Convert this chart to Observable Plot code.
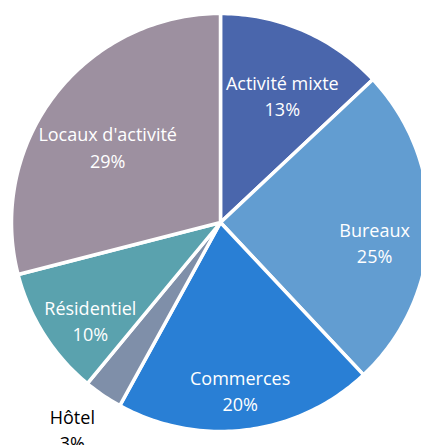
<!DOCTYPE html>
<html><head><meta charset="utf-8">
<script src="https://cdn.jsdelivr.net/npm/d3@7"></script>
<script src="https://cdn.jsdelivr.net/npm/@observablehq/plot@0.6"></script>
<style>html,body{margin:0;padding:0;background:#fff;overflow:hidden}</style>
</head><body><div id="chart"></div>
<script>
const categories = ["Activité mixte", "Bureaux", "Commerces", "Hôtel", "Résidentiel", "Locaux d'activité"];
const shares = [13, 25, 20, 3, 10, 29];
const shareLabels = ["13%", "25%", "20%", "3%", "10%", "29%"];
const colors = ["#4A66AC", "#629DD1", "#297FD5", "#7F8FA9", "#5AA2AE", "#9D90A0"];

const W = 421, H = 445, CX = 220, CY = 222, R = 209;
const FS = 18, LH = 1.45, FONT = "Open Sans";

const pie = d3.pie().sort(null).value(d => d)(shares);

// slice polygons in unit-circle data space (y up)
const pts = [];
pie.forEach((a, i) => {
  const n = Math.max(2, Math.ceil((a.endAngle - a.startAngle) / (Math.PI / 180)));
  pts.push({cat: categories[i], x: 0, y: 0});
  for (let k = 0; k <= n; k++) {
    const t = a.startAngle + (a.endAngle - a.startAngle) * k / n;
    pts.push({cat: categories[i], x: Math.sin(t), y: Math.cos(t)});
  }
});

// measure text
const ctx = document.createElement("canvas").getContext("2d");
ctx.font = `${FS}px "${FONT}"`;

function boxFits(qx, qy, w, h, a0, a1, pad) {
  const span = a1 - a0;
  for (const sx of [-1, 1]) for (const sy of [-1, 1]) {
    const cx = qx + sx * w / 2, cy = qy + sy * h / 2;
    const len = Math.hypot(cx, cy);
    if (len > R - pad) return false;
    let ang = Math.atan2(cx, -cy); if (ang < 0) ang += 2 * Math.PI;
    let delta = ((ang - a0) % (2 * Math.PI) + 2 * Math.PI) % (2 * Math.PI);
    if (delta > span) return false;
    const d0 = delta < Math.PI / 2 ? len * Math.sin(delta) : len;
    const e = span - delta;
    const d1 = e < Math.PI / 2 ? len * Math.sin(e) : len;
    if (Math.min(d0, d1) < pad) return false;
  }
  return true;
}

const inside = [], outside = [];
pie.forEach((a, i) => {
  const text = categories[i] + "\n" + shareLabels[i];
  const lines = text.split("\n");
  const boxes = lines.map((l, k) => ({w: ctx.measureText(l).width, dy: (k - (lines.length - 1) / 2) * LH * FS, h: 0.75 * FS}));
  const mid = (a.startAngle + a.endAngle) / 2;
  const pr = 0.74 * R;
  const P = [pr * Math.sin(mid), -pr * Math.cos(mid) + 14];
  let best = null, bd = Infinity;
  for (let t = a.startAngle; t <= a.endAngle; t += Math.PI / 720) {
    for (let r = 0.25 * R; r <= R; r += 1) {
      const qx = r * Math.sin(t), qy = -r * Math.cos(t);
      if (boxes.every(b => boxFits(qx, qy + b.dy, b.w, b.h, a.startAngle, a.endAngle, 3))) {
        const d = Math.hypot(qx - P[0], qy - P[1]);
        if (d < bd) { bd = d; best = [qx, qy]; }
      }
    }
  }
  if (best) inside.push({text, x: best[0] / R, y: -best[1] / R});
  else {
    const ro = 1.19;
    outside.push({text, x: ro * Math.sin(mid) - 0.04, y: ro * Math.cos(mid)});
  }
});

const chart = Plot.plot({
  width: W, height: H, margin: 0,
  x: {domain: [-CX / R, (W - CX) / R], axis: null},
  y: {domain: [-(H - CY) / R, CY / R], axis: null},
  color: {domain: categories, range: colors},
  style: {background: "white"},
  marks: [
    Plot.line(pts, {x: "x", y: "y", z: "cat", fill: "cat", stroke: "white", strokeWidth: 3.5, strokeLinejoin: "round", curve: "linear-closed"}),
    Plot.text(inside, {x: "x", y: "y", text: "text", fill: "white", fontSize: FS, fontFamily: FONT, fontWeight: 400, lineHeight: LH}),
    Plot.text(outside, {x: "x", y: "y", text: "text", fill: "black", fontSize: FS, fontFamily: FONT, fontWeight: 400, lineHeight: LH})
  ]
});
document.getElementById("chart").append(chart);
</script>
</body></html>
